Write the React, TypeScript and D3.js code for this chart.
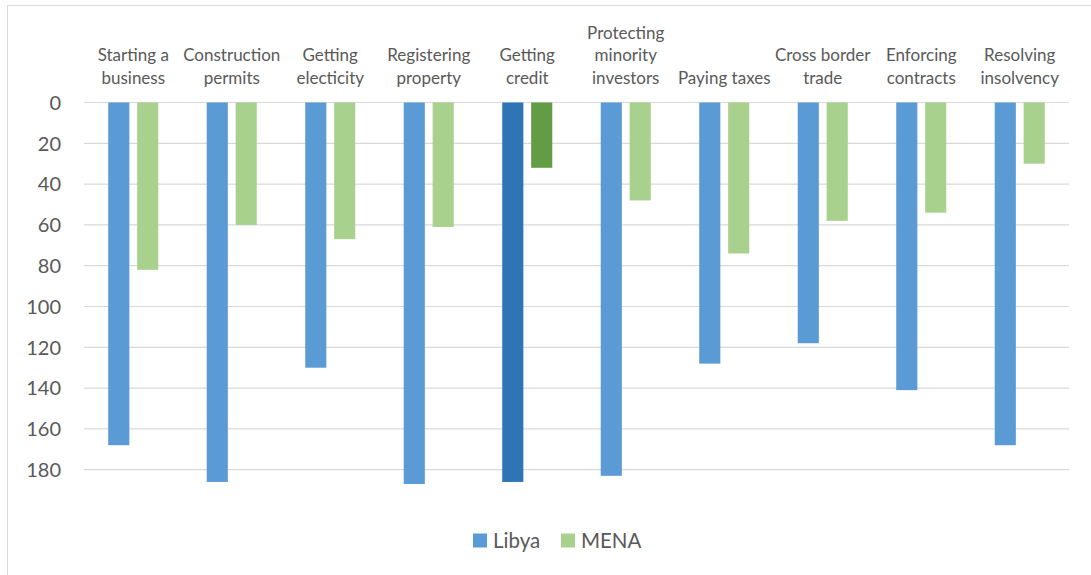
import { useEffect, useRef } from 'react'
import * as d3 from 'd3'

const categories = [
  'Starting a business',
  'Construction permits',
  'Getting electicity',
  'Registering property',
  'Getting credit',
  'Protecting minority investors',
  'Paying taxes',
  'Cross border trade',
  'Enforcing contracts',
  'Resolving insolvency',
]

// label lines as they wrap in the original
const categoryLines = [
  ['Starting a', 'business'],
  ['Construction', 'permits'],
  ['Getting', 'electicity'],
  ['Registering', 'property'],
  ['Getting', 'credit'],
  ['Protecting', 'minority', 'investors'],
  ['Paying taxes'],
  ['Cross border', 'trade'],
  ['Enforcing', 'contracts'],
  ['Resolving', 'insolvency'],
]

const libya = [168, 186, 130, 187, 186, 183, 128, 118, 141, 168]
const mena = [82, 60, 67, 61, 32, 48, 74, 58, 54, 30]

const yTicks = [0, 20, 40, 60, 80, 100, 120, 140, 160, 180]

const seriesNames = ['Libya', 'MENA']
const seriesColors = ['#5B9BD5', '#A9D18E']
// the highlighted "Getting credit" point uses darker fills
const highlightColors = ['#2E75B6', '#629C44']
const highlightCategory = 'Getting credit'

const WIDTH = 1091
const HEIGHT = 575
const FONT = 'Lato, "Open Sans", sans-serif'

export default function App() {
  const svgRef = useRef<SVGSVGElement>(null)

  useEffect(() => {
    if (!svgRef.current) return
    const svg = d3.select(svgRef.current)
    svg.selectAll('*').remove()

    const plot = { left: 84, right: 1069, top: 102.5, bottom: 510.5 }

    // chart frame (only the top and left edges are inside the window)
    svg.append('rect')
      .attr('x', 7.5).attr('y', 5.5)
      .attr('width', WIDTH + 20).attr('height', HEIGHT + 20)
      .attr('fill', 'white')
      .attr('stroke', '#d9d9d9')

    const x0 = d3.scaleBand<string>()
      .domain(categories)
      .range([plot.left, plot.right])
      .paddingInner(0.492)
      .paddingOuter(0.246)

    const x1 = d3.scaleBand<string>()
      .domain(seriesNames)
      .range([0, x0.bandwidth()])
      .paddingInner(0.27)

    const y = d3.scaleLinear()
      .domain([0, 200])
      .range([plot.top, plot.bottom])

    // Grid
    svg.append('g')
      .selectAll('line')
      .data(yTicks)
      .join('line')
      .attr('x1', plot.left).attr('x2', plot.right)
      .attr('y1', d => y(d)).attr('y2', d => y(d))
      .attr('stroke', '#d9d9d9')
      .attr('stroke-width', 1.2)

    // Y axis labels
    svg.append('g')
      .selectAll('text')
      .data(yTicks)
      .join('text')
      .attr('x', 61)
      .attr('y', d => y(d) + 7.3)
      .attr('text-anchor', 'end')
      .attr('font-family', FONT)
      .attr('font-size', 20)
      .attr('fill', '#595959')
      .text(d => d)

    // Category labels (axis on top because of the reversed scale)
    const labels = svg.append('g')
    categories.forEach((c, i) => {
      const lines = categoryLines[i]
      const cx = x0(c)! + x0.bandwidth() / 2
      lines.forEach((ln, j) => {
        labels.append('text')
          .attr('x', cx)
          .attr('y', 83.5 - (lines.length - 1 - j) * 22.5)
          .attr('text-anchor', 'middle')
          .attr('font-family', FONT)
          .attr('font-size', 17)
          .attr('fill', '#595959')
          .text(ln)
      })
    })

    // Bars
    const values = [libya, mena]
    const bars = svg.append('g')
    categories.forEach((c, i) => {
      seriesNames.forEach((s, k) => {
        const v = values[k][i]
        const fill = c === highlightCategory ? highlightColors[k] : seriesColors[k]
        bars.append('rect')
          .attr('x', x0(c)! + x1(s)!)
          .attr('y', y(0))
          .attr('width', x1.bandwidth())
          .attr('height', y(v) - y(0))
          .attr('fill', fill)
      })
    })

    // Legend
    const legendItems = [
      { name: 'Libya', x: 473 },
      { name: 'MENA', x: 561 },
    ]
    const legend = svg.append('g')
    legendItems.forEach((d, k) => {
      legend.append('rect')
        .attr('x', d.x).attr('y', 533.5)
        .attr('width', 14).attr('height', 14)
        .attr('fill', seriesColors[k])
      legend.append('text')
        .attr('x', d.x + 20)
        .attr('y', 547.5)
        .attr('font-family', FONT)
        .attr('font-size', 20.5)
        .attr('fill', '#595959')
        .text(d.name)
    })
  }, [])

  return (
    <svg
      ref={svgRef}
      width={WIDTH}
      height={HEIGHT}
      style={{ position: 'absolute', left: 0, top: 0, background: 'white' }}
    />
  )
}
